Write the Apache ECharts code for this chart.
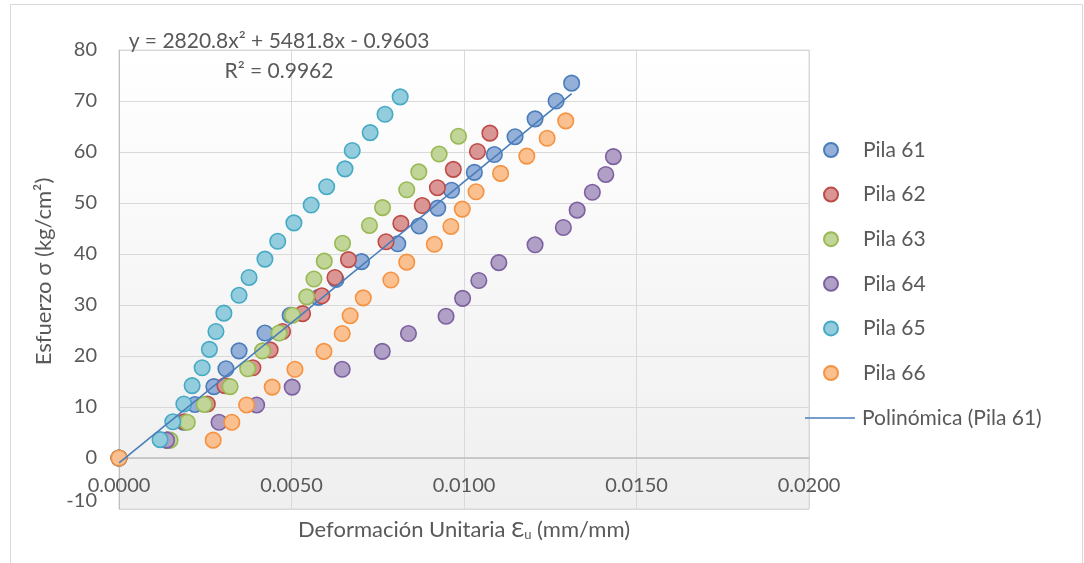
<!DOCTYPE html>
<html>
<head>
<meta charset="utf-8">
<script src="https://cdn.jsdelivr.net/npm/echarts@6/dist/echarts.min.js"></script>
<style>html,body{margin:0;padding:0;background:#fff;}#c{width:1084px;height:563px;}</style>
</head>
<body>
<div id="c"></div>
<script>
// ---- Data (strain mm/mm, stress kg/cm2) ----
const pila61X = [0, 0.00140, 0.00187, 0.00220, 0.00275, 0.00310, 0.00348, 0.00423, 0.00496, 0.00578, 0.00629, 0.00703, 0.00808, 0.00870, 0.00924, 0.00964, 0.01030, 0.01088, 0.01148, 0.01206, 0.01267, 0.01312];
const pila61Y = [0, 3.5, 7.0, 10.5, 14.0, 17.5, 21.0, 24.5, 28.0, 31.5, 35.0, 38.5, 42.0, 45.5, 49.0, 52.5, 56.0, 59.5, 63.0, 66.5, 70.0, 73.5];

const pila62X = [0, 0.00142, 0.00190, 0.00256, 0.00307, 0.00388, 0.00438, 0.00474, 0.00532, 0.00588, 0.00626, 0.00665, 0.00774, 0.00817, 0.00879, 0.00923, 0.00969, 0.01039, 0.01075];
const pila62Y = [0, 3.5, 7.1, 10.6, 14.2, 17.7, 21.2, 24.8, 28.3, 31.8, 35.4, 38.9, 42.4, 46.0, 49.5, 53.0, 56.6, 60.1, 63.7];

const pila63X = [0, 0.00148, 0.00198, 0.00247, 0.00322, 0.00373, 0.00416, 0.00464, 0.00503, 0.00544, 0.00565, 0.00595, 0.00648, 0.00726, 0.00764, 0.00834, 0.00869, 0.00928, 0.00984];
const pila63Y = [0, 3.5, 7.0, 10.5, 14.0, 17.5, 21.0, 24.5, 28.0, 31.6, 35.1, 38.6, 42.1, 45.6, 49.1, 52.6, 56.1, 59.6, 63.1];

const pila64X = [0, 0.00138, 0.00290, 0.00399, 0.00502, 0.00647, 0.00763, 0.00839, 0.00948, 0.00996, 0.01043, 0.01101, 0.01206, 0.01288, 0.01328, 0.01372, 0.01411, 0.01433];
const pila64Y = [0, 3.5, 7.0, 10.4, 13.9, 17.4, 20.9, 24.4, 27.8, 31.3, 34.8, 38.3, 41.8, 45.2, 48.6, 52.1, 55.6, 59.1];

const pila65X = [0, 0.00119, 0.00156, 0.00188, 0.00212, 0.00241, 0.00262, 0.00281, 0.00304, 0.00348, 0.00377, 0.00423, 0.00460, 0.00507, 0.00557, 0.00602, 0.00655, 0.00676, 0.00728, 0.00771, 0.00815];
const pila65Y = [0, 3.6, 7.1, 10.6, 14.2, 17.7, 21.3, 24.8, 28.4, 31.9, 35.4, 39.0, 42.5, 46.1, 49.6, 53.2, 56.7, 60.3, 63.8, 67.4, 70.8];

const pila66X = [0, 0.00273, 0.00327, 0.00370, 0.00444, 0.00510, 0.00594, 0.00647, 0.00670, 0.00708, 0.00788, 0.00834, 0.00914, 0.00962, 0.00995, 0.01035, 0.01106, 0.01182, 0.01241, 0.01295];
const pila66Y = [0, 3.5, 7.0, 10.4, 13.9, 17.4, 20.9, 24.4, 27.9, 31.4, 34.9, 38.4, 41.9, 45.4, 48.8, 52.2, 55.8, 59.2, 62.7, 66.1];

// Trend line coefficients displayed on the chart: y = a x^2 + b x + c
const trendCoef = [2820.8, 5481.8, -0.9603];
const trendLabel = ['y = 2820.8x\u00B2 + 5481.8x - 0.9603', 'R\u00B2 = 0.9962'];

const seriesNames = ['Pila 61', 'Pila 62', 'Pila 63', 'Pila 64', 'Pila 65', 'Pila 66'];
const trendName = 'Polin\u00F3mica (Pila 61)';
const xTicks = {min: 0, max: 0.02, interval: 0.005};
const yTicks = {min: -10, max: 80, interval: 10};

// ---- Styles ----
const borderColors = ['#4A7EBB', '#BE4B48', '#98B954', '#7D60A0', '#46AAC5', '#F69240'];
const fillColors   = ['#95B0D8', '#D99694', '#C2D599', '#B1A0C6', '#93CDDD', '#FAC090'];
const txt = '#595959';
const FONT = 'Lato, "Open Sans", sans-serif';

const xs = [pila61X, pila62X, pila63X, pila64X, pila65X, pila66X];
const ys = [pila61Y, pila62Y, pila63Y, pila64Y, pila65Y, pila66Y];

const series = seriesNames.map((n, i) => ({
  name: n,
  type: 'scatter',
  data: xs[i].map((x, k) => [x, ys[i][k]]),
  symbol: 'circle',
  symbolSize: 15.5,
  itemStyle: {color: fillColors[i], borderColor: borderColors[i], borderWidth: 1.6, opacity: 1},
  z: 2 + i
}));

// trend line sampled along Pila 61 range
const xEnd = Math.max.apply(null, pila61X);
const trendData = [];
for (let k = 0; k <= 60; k++) {
  const x = xEnd * k / 60;
  trendData.push([x, trendCoef[0] * x * x + trendCoef[1] * x + trendCoef[2]]);
}
series.push({
  name: trendName,
  type: 'line',
  data: trendData,
  symbol: 'none',
  showSymbol: false,
  lineStyle: {color: '#4A7EBB', width: 1.6},
  itemStyle: {color: '#4A7EBB'},
  z: 20
});

const chart = echarts.init(document.getElementById('c'));
chart.setOption({
  animation: false,
  backgroundColor: '#ffffff',
  textStyle: {fontFamily: FONT},
  grid: {
    left: 119, top: 50, right: 275, bottom: 54,
    outerBoundsMode: 'none',
    containLabel: false,
    show: true,
    borderColor: '#d9d9d9', borderWidth: 1,
    backgroundColor: {type: 'linear', x: 0, y: 0, x2: 0, y2: 1,
      colorStops: [{offset: 0, color: '#ffffff'}, {offset: 1, color: '#efefef'}]}
  },
  xAxis: {
    type: 'value', min: xTicks.min, max: xTicks.max, interval: xTicks.interval,
    offset: -51,
    axisLine: {show: true, onZero: false, lineStyle: {color: '#bfbfbf', width: 1.5}},
    axisTick: {show: false},
    splitLine: {show: true, lineStyle: {color: '#d9d9d9', width: 1}},
    axisLabel: {color: txt, fontSize: 20, fontFamily: FONT, margin: 18,
      formatter: v => v.toFixed(4)},
    name: 'Deformaci\u00F3n Unitaria \u0190{sub|u} (mm/mm)',
    nameLocation: 'middle', nameGap: 60,
    nameTextStyle: {color: txt, fontSize: 22, fontFamily: FONT,
      rich: {sub: {fontSize: 13, color: txt, fontFamily: FONT, verticalAlign: 'bottom', padding: [10, 0, 0, 0]}}}
  },
  yAxis: {
    type: 'value', min: yTicks.min, max: yTicks.max, interval: yTicks.interval,
    axisLine: {show: true, onZero: false, lineStyle: {color: '#bfbfbf', width: 1}},
    axisTick: {show: false},
    splitLine: {show: true, lineStyle: {color: '#d9d9d9', width: 1}},
    axisLabel: {color: txt, fontSize: 20, fontFamily: FONT, margin: 22,
      formatter: v => (v === yTicks.min ? '{lo|' + v + '}' : String(v)),
      rich: {lo: {color: txt, fontSize: 20, fontFamily: FONT, padding: [0, 0, 16, 0]}}},
    name: 'Esfuerzo \u03C3 (kg/cm\u00B2)',
    nameLocation: 'middle', nameGap: 64,
    nameTextStyle: {color: txt, fontSize: 22, fontFamily: FONT, padding: [0, 0, 0, 16]}
  },
  legend: [
    {
      data: seriesNames, orient: 'vertical', left: 823, top: 138, padding: 0,
      itemWidth: 14, itemHeight: 14, itemGap: 20.6,
      icon: 'circle',
      textStyle: {color: txt, fontSize: 21, fontFamily: FONT, lineHeight: 24, padding: [0, 0, 0, 20]},
      selectedMode: false
    },
    {
      data: [{name: trendName, icon: 'rect'}], orient: 'vertical', left: 805, top: 406, padding: 0,
      itemWidth: 50, itemHeight: 1.6,
      itemStyle: {color: '#4A7EBB', borderWidth: 0},
      lineStyle: {width: 0},
      textStyle: {color: txt, fontSize: 21, fontFamily: FONT, lineHeight: 24, padding: [0, 0, 0, 2]},
      selectedMode: false
    }
  ],
  graphic: [
    {type: 'rect', left: 8, top: 2, silent: true, z: -10,
      shape: {x: 0, y: 0, width: 1072, height: 620},
      style: {fill: 'none', stroke: '#d9d9d9', lineWidth: 1}},
    {type: 'text', x: 279, y: 41, z: 50,
      style: {text: trendLabel[0], fill: txt, font: '21px ' + FONT, textAlign: 'center', textVerticalAlign: 'middle'}},
    {type: 'text', x: 279, y: 71, z: 50,
      style: {text: trendLabel[1], fill: txt, font: '21px ' + FONT, textAlign: 'center', textVerticalAlign: 'middle'}}
  ],
  series: series
});
</script>
</body>
</html>
